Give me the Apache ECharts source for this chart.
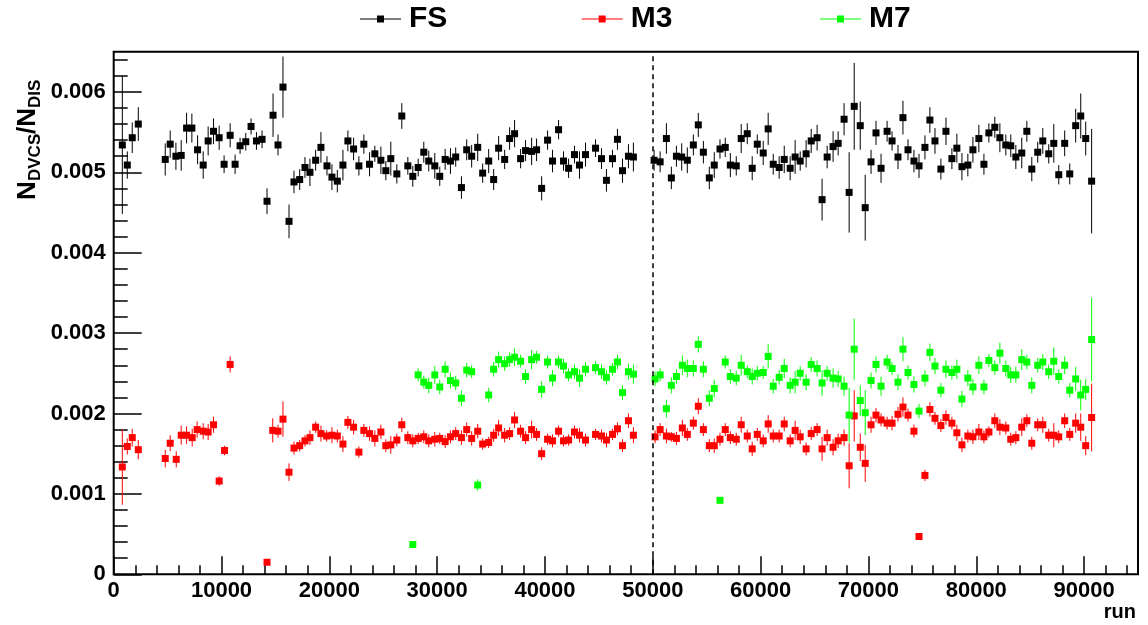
<!DOCTYPE html>
<html><head><meta charset="utf-8">
<script src="https://cdn.jsdelivr.net/npm/echarts@6/dist/echarts.min.js"></script>
<style>html,body{margin:0;padding:0;background:#fff}#c{width:1148px;height:625px}</style>
</head><body><div id="c"></div>
<script>
// [run, value, error]
const fsPoints = [
[800,5.34e-3,0.86e-3],[1260,5.09e-3,0.17e-3],[1720,5.43e-3,0.19e-3],[2280,5.60e-3,0.21e-3],
[4780,5.16e-3,0.20e-3],[5240,5.35e-3,0.17e-3],[5770,5.20e-3,0.17e-3],[6260,5.21e-3,0.19e-3],[6760,5.55e-3,0.19e-3],[7250,5.55e-3,0.18e-3],[7780,5.28e-3,0.18e-3],[8300,5.09e-3,0.17e-3],[8760,5.39e-3,0.18e-3],[9260,5.51e-3,0.16e-3],[9780,5.43e-3,0.15e-3],
[10240,5.10e-3,0.11e-3],[10800,5.46e-3,0.15e-3],[11260,5.10e-3,0.12e-3],[11720,5.33e-3,0.10e-3],[12250,5.38e-3,0.11e-3],[12740,5.57e-3,0.10e-3],[13240,5.39e-3,0.11e-3],[13760,5.41e-3,0.11e-3],[14220,4.64e-3,0.16e-3],[14780,5.71e-3,0.27e-3],[15240,5.34e-3,0.13e-3],[15700,6.06e-3,0.38e-3],[16260,4.39e-3,0.21e-3],[16720,4.88e-3,0.14e-3],[17250,4.91e-3,0.13e-3],[17740,5.06e-3,0.13e-3],[18200,5.00e-3,0.17e-3],[18730,5.15e-3,0.13e-3],[19220,5.31e-3,0.19e-3],[19780,5.08e-3,0.12e-3],
[20240,4.94e-3,0.16e-3],[20740,4.89e-3,0.14e-3],[21260,5.09e-3,0.19e-3],[21720,5.39e-3,0.13e-3],[22250,5.29e-3,0.14e-3],[22740,5.08e-3,0.12e-3],[23200,5.35e-3,0.12e-3],[23730,5.10e-3,0.15e-3],[24220,5.23e-3,0.10e-3],[24780,5.15e-3,0.17e-3],[25240,5.02e-3,0.12e-3],[25700,5.17e-3,0.21e-3],[26260,4.98e-3,0.12e-3],[26720,5.70e-3,0.16e-3],[27280,5.08e-3,0.11e-3],[27740,4.95e-3,0.13e-3],[28240,5.06e-3,0.11e-3],[28760,5.25e-3,0.13e-3],[29220,5.14e-3,0.13e-3],[29780,5.08e-3,0.16e-3],
[30240,4.95e-3,0.12e-3],[30740,5.16e-3,0.13e-3],[31230,5.14e-3,0.16e-3],[31720,5.19e-3,0.12e-3],[32250,4.81e-3,0.14e-3],[32740,5.28e-3,0.13e-3],[33200,5.20e-3,0.14e-3],[33760,5.31e-3,0.17e-3],[34220,4.99e-3,0.12e-3],[34780,5.14e-3,0.15e-3],[35240,4.91e-3,0.13e-3],[35700,5.30e-3,0.15e-3],[36260,5.16e-3,0.12e-3],[36720,5.42e-3,0.14e-3],[37180,5.48e-3,0.17e-3],[37740,5.17e-3,0.12e-3],[38200,5.27e-3,0.13e-3],[38760,5.26e-3,0.17e-3],[39220,5.28e-3,0.14e-3],[39690,4.80e-3,0.15e-3],
[40240,5.40e-3,0.12e-3],[40700,5.14e-3,0.14e-3],[41260,5.53e-3,0.12e-3],[41720,5.14e-3,0.12e-3],[42190,5.05e-3,0.12e-3],[42740,5.22e-3,0.11e-3],[43200,5.09e-3,0.17e-3],[43760,5.22e-3,0.15e-3],[44690,5.30e-3,0.11e-3],[45240,5.17e-3,0.13e-3],[45700,4.90e-3,0.14e-3],[46260,5.17e-3,0.11e-3],[46720,5.41e-3,0.13e-3],[47190,5.02e-3,0.15e-3],[47740,5.20e-3,0.15e-3],[48200,5.19e-3,0.18e-3],
[50120,5.15e-3,0.13e-3],[50680,5.13e-3,0.13e-3],[51260,5.42e-3,0.19e-3],[51720,4.93e-3,0.14e-3],[52190,5.20e-3,0.13e-3],[52680,5.19e-3,0.17e-3],[53200,5.15e-3,0.16e-3],[53760,5.34e-3,0.13e-3],[54220,5.59e-3,0.15e-3],[54690,5.25e-3,0.14e-3],[55240,4.93e-3,0.14e-3],[55700,5.09e-3,0.16e-3],[56230,5.29e-3,0.12e-3],[56720,5.31e-3,0.12e-3],[57190,5.09e-3,0.15e-3],[57740,5.08e-3,0.12e-3],[58200,5.42e-3,0.18e-3],[58760,5.48e-3,0.13e-3],[59220,5.05e-3,0.15e-3],[59690,5.35e-3,0.12e-3],
[60240,5.24e-3,0.15e-3],[60700,5.54e-3,0.20e-3],[61170,5.10e-3,0.13e-3],[61720,5.06e-3,0.14e-3],[62190,5.16e-3,0.17e-3],[62740,5.05e-3,0.15e-3],[63200,5.19e-3,0.21e-3],[63670,5.14e-3,0.12e-3],[64220,5.23e-3,0.17e-3],[64690,5.39e-3,0.15e-3],[65240,5.43e-3,0.16e-3],[65700,4.66e-3,0.26e-3],[66170,5.19e-3,0.14e-3],[66720,5.32e-3,0.19e-3],[67190,5.36e-3,0.15e-3],[67740,5.66e-3,0.20e-3],[68210,4.75e-3,0.50e-3],[68680,5.82e-3,0.54e-3],[69240,5.58e-3,0.30e-3],[69700,4.56e-3,0.41e-3],
[70240,5.13e-3,0.15e-3],[70700,5.49e-3,0.15e-3],[71170,5.05e-3,0.18e-3],[71730,5.51e-3,0.13e-3],[72190,5.39e-3,0.12e-3],[72740,5.19e-3,0.15e-3],[73200,5.68e-3,0.21e-3],[73670,5.28e-3,0.13e-3],[74220,5.14e-3,0.14e-3],[74690,5.08e-3,0.15e-3],[75240,5.31e-3,0.15e-3],[75700,5.65e-3,0.16e-3],[76170,5.39e-3,0.16e-3],[76720,5.04e-3,0.13e-3],[77190,5.51e-3,0.17e-3],[77740,5.17e-3,0.13e-3],[78200,5.30e-3,0.18e-3],[78670,5.07e-3,0.17e-3],[79220,5.09e-3,0.14e-3],[79690,5.28e-3,0.16e-3],
[80240,5.42e-3,0.17e-3],[80710,5.10e-3,0.13e-3],[81170,5.49e-3,0.12e-3],[81720,5.56e-3,0.13e-3],[82190,5.43e-3,0.18e-3],[82740,5.34e-3,0.13e-3],[83200,5.33e-3,0.14e-3],[83670,5.19e-3,0.15e-3],[84220,5.24e-3,0.19e-3],[84690,5.51e-3,0.13e-3],[85150,5.04e-3,0.15e-3],[85700,5.25e-3,0.13e-3],[86170,5.39e-3,0.16e-3],[86720,5.23e-3,0.12e-3],[87190,5.36e-3,0.24e-3],[87650,4.97e-3,0.12e-3],[88200,5.36e-3,0.16e-3],[88670,4.98e-3,0.13e-3],[89220,5.58e-3,0.21e-3],[89690,5.70e-3,0.28e-3],
[90150,5.42e-3,0.21e-3],[90700,4.89e-3,0.65e-3]
];
const m3Points = [
[800,1.335e-3,0.47e-3],[1260,1.59e-3,0.10e-3],[1720,1.70e-3,0.11e-3],[2280,1.55e-3,0.12e-3],
[4780,1.44e-3,0.11e-3],[5240,1.63e-3,0.10e-3],[5800,1.43e-3,0.10e-3],[6260,1.73e-3,0.12e-3],[6760,1.73e-3,0.11e-3],[7280,1.70e-3,0.11e-3],[7740,1.80e-3,0.10e-3],[8300,1.78e-3,0.10e-3],[8760,1.77e-3,0.10e-3],[9260,1.86e-3,0.10e-3],[9780,1.16e-3,0.06e-3],[10280,1.54e-3,0.06e-3],[10800,2.61e-3,0.10e-3],
[14220,0.15e-3,0.03e-3],[14750,1.79e-3,0.15e-3],[15240,1.78e-3,0.08e-3],[15700,1.93e-3,0.22e-3],[16260,1.27e-3,0.11e-3],[16720,1.57e-3,0.08e-3],[17250,1.60e-3,0.07e-3],[17740,1.66e-3,0.07e-3],[18200,1.70e-3,0.09e-3],[18730,1.83e-3,0.07e-3],[19220,1.75e-3,0.10e-3],[19750,1.72e-3,0.07e-3],
[20240,1.73e-3,0.10e-3],[20740,1.72e-3,0.08e-3],[21260,1.62e-3,0.10e-3],[21720,1.89e-3,0.08e-3],[22250,1.83e-3,0.09e-3],[22740,1.52e-3,0.07e-3],[23200,1.79e-3,0.08e-3],[23730,1.75e-3,0.09e-3],[24220,1.69e-3,0.10e-3],[24780,1.77e-3,0.09e-3],[25240,1.60e-3,0.08e-3],[25700,1.61e-3,0.11e-3],[26260,1.67e-3,0.08e-3],[26720,1.86e-3,0.09e-3],[27280,1.70e-3,0.08e-3],[27740,1.66e-3,0.08e-3],[28240,1.69e-3,0.07e-3],[28760,1.71e-3,0.08e-3],[29220,1.66e-3,0.08e-3],[29780,1.68e-3,0.09e-3],
[30240,1.69e-3,0.07e-3],[30740,1.65e-3,0.08e-3],[31230,1.71e-3,0.08e-3],[31720,1.75e-3,0.08e-3],[32250,1.70e-3,0.09e-3],[32740,1.80e-3,0.09e-3],[33200,1.69e-3,0.09e-3],[33760,1.78e-3,0.09e-3],[34220,1.62e-3,0.07e-3],[34780,1.64e-3,0.07e-3],[35240,1.73e-3,0.08e-3],[35700,1.82e-3,0.10e-3],[36260,1.73e-3,0.09e-3],[36720,1.75e-3,0.08e-3],[37180,1.92e-3,0.10e-3],[37740,1.78e-3,0.08e-3],[38200,1.70e-3,0.08e-3],[38760,1.80e-3,0.11e-3],[39220,1.74e-3,0.08e-3],[39690,1.50e-3,0.08e-3],
[40240,1.68e-3,0.07e-3],[40700,1.66e-3,0.08e-3],[41260,1.78e-3,0.07e-3],[41720,1.66e-3,0.07e-3],[42190,1.67e-3,0.07e-3],[42740,1.77e-3,0.08e-3],[43200,1.73e-3,0.09e-3],[43760,1.67e-3,0.08e-3],[44690,1.74e-3,0.07e-3],[45240,1.72e-3,0.08e-3],[45700,1.67e-3,0.09e-3],[46260,1.74e-3,0.07e-3],[46720,1.81e-3,0.08e-3],[47190,1.60e-3,0.08e-3],[47740,1.91e-3,0.09e-3],[48200,1.73e-3,0.10e-3],
[50210,1.71e-3,0.08e-3],[50680,1.80e-3,0.08e-3],[51260,1.72e-3,0.09e-3],[51720,1.71e-3,0.06e-3],[52190,1.69e-3,0.08e-3],[52740,1.82e-3,0.10e-3],[53200,1.74e-3,0.08e-3],[53760,1.88e-3,0.08e-3],[54220,2.09e-3,0.10e-3],[54690,1.80e-3,0.08e-3],[55240,1.60e-3,0.08e-3],[55700,1.60e-3,0.09e-3],[56230,1.68e-3,0.08e-3],[56720,1.80e-3,0.08e-3],[57190,1.70e-3,0.08e-3],[57740,1.68e-3,0.08e-3],[58200,1.86e-3,0.10e-3],[58760,1.72e-3,0.08e-3],[59220,1.56e-3,0.09e-3],[59690,1.74e-3,0.08e-3],
[60240,1.66e-3,0.08e-3],[60700,1.87e-3,0.11e-3],[61170,1.72e-3,0.08e-3],[61720,1.72e-3,0.08e-3],[62190,1.87e-3,0.09e-3],[62740,1.66e-3,0.08e-3],[63200,1.79e-3,0.12e-3],[63670,1.71e-3,0.09e-3],[64220,1.56e-3,0.08e-3],[64690,1.75e-3,0.08e-3],[65240,1.80e-3,0.08e-3],[65700,1.56e-3,0.15e-3],[66170,1.70e-3,0.10e-3],[66720,1.58e-3,0.10e-3],[67190,1.66e-3,0.09e-3],[67740,1.70e-3,0.10e-3],[68210,1.35e-3,0.28e-3],[68680,1.97e-3,0.32e-3],[69240,1.58e-3,0.17e-3],[69700,1.38e-3,0.23e-3],
[70240,1.86e-3,0.10e-3],[70700,1.98e-3,0.09e-3],[71170,1.92e-3,0.08e-3],[71730,1.88e-3,0.08e-3],[72190,1.88e-3,0.09e-3],[72740,1.99e-3,0.09e-3],[73200,2.08e-3,0.12e-3],[73670,1.98e-3,0.08e-3],[74220,1.78e-3,0.08e-3],[74690,0.47e-3,0.03e-3],[75240,1.23e-3,0.07e-3],[75700,2.05e-3,0.09e-3],[76170,1.94e-3,0.08e-3],[76720,1.85e-3,0.08e-3],[77190,1.95e-3,0.09e-3],[77740,1.88e-3,0.08e-3],[78200,1.76e-3,0.10e-3],[78670,1.61e-3,0.09e-3],[79220,1.72e-3,0.08e-3],[79690,1.71e-3,0.09e-3],
[80240,1.77e-3,0.10e-3],[80710,1.71e-3,0.08e-3],[81170,1.77e-3,0.07e-3],[81720,1.91e-3,0.09e-3],[82190,1.83e-3,0.10e-3],[82740,1.82e-3,0.08e-3],[83200,1.68e-3,0.08e-3],[83670,1.70e-3,0.08e-3],[84220,1.83e-3,0.11e-3],[84690,1.91e-3,0.08e-3],[85150,1.63e-3,0.08e-3],[85700,1.86e-3,0.08e-3],[86170,1.86e-3,0.10e-3],[86720,1.73e-3,0.08e-3],[87190,1.73e-3,0.15e-3],[87650,1.71e-3,0.08e-3],[88200,1.91e-3,0.09e-3],[88670,1.74e-3,0.08e-3],[89220,1.88e-3,0.12e-3],[89690,1.83e-3,0.17e-3],
[90150,1.60e-3,0.12e-3],[90700,1.95e-3,0.42e-3]
];
const m7Points = [
[27740,0.37e-3,0.03e-3],[28240,2.48e-3,0.08e-3],[28760,2.39e-3,0.08e-3],[29220,2.35e-3,0.10e-3],[29780,2.48e-3,0.11e-3],
[30240,2.33e-3,0.09e-3],[30740,2.55e-3,0.10e-3],[31230,2.41e-3,0.10e-3],[31720,2.38e-3,0.09e-3],[32250,2.19e-3,0.10e-3],[32740,2.54e-3,0.09e-3],[33200,2.52e-3,0.08e-3],[33760,1.11e-3,0.07e-3],[34780,2.23e-3,0.09e-3],[35240,2.55e-3,0.09e-3],[35700,2.67e-3,0.10e-3],[36260,2.62e-3,0.09e-3],[36720,2.67e-3,0.09e-3],[37180,2.70e-3,0.11e-3],[37740,2.65e-3,0.08e-3],[38200,2.46e-3,0.09e-3],[38760,2.67e-3,0.12e-3],[39220,2.70e-3,0.08e-3],[39690,2.30e-3,0.10e-3],
[40240,2.64e-3,0.08e-3],[40700,2.44e-3,0.10e-3],[41260,2.64e-3,0.08e-3],[41720,2.59e-3,0.09e-3],[42190,2.48e-3,0.08e-3],[42740,2.52e-3,0.09e-3],[43200,2.44e-3,0.11e-3],[43760,2.55e-3,0.09e-3],[44690,2.57e-3,0.08e-3],[45240,2.52e-3,0.09e-3],[45700,2.45e-3,0.09e-3],[46260,2.55e-3,0.08e-3],[46720,2.64e-3,0.09e-3],[47190,2.26e-3,0.09e-3],[47740,2.52e-3,0.10e-3],[48200,2.49e-3,0.12e-3],
[50210,2.43e-3,0.09e-3],[50680,2.48e-3,0.08e-3],[51260,2.06e-3,0.11e-3],[51720,2.35e-3,0.10e-3],[52190,2.46e-3,0.09e-3],[52740,2.60e-3,0.12e-3],[53200,2.56e-3,0.11e-3],[53760,2.56e-3,0.10e-3],[54220,2.86e-3,0.10e-3],[54690,2.55e-3,0.10e-3],[55240,2.19e-3,0.10e-3],[55700,2.31e-3,0.11e-3],[56230,0.92e-3,0.03e-3],[56720,2.64e-3,0.08e-3],[57190,2.46e-3,0.09e-3],[57740,2.44e-3,0.09e-3],[58200,2.60e-3,0.13e-3],[58760,2.52e-3,0.08e-3],[59220,2.46e-3,0.10e-3],[59690,2.50e-3,0.09e-3],
[60240,2.51e-3,0.08e-3],[60700,2.71e-3,0.15e-3],[61170,2.34e-3,0.09e-3],[61720,2.45e-3,0.09e-3],[62190,2.56e-3,0.12e-3],[62740,2.35e-3,0.10e-3],[63200,2.39e-3,0.14e-3],[63670,2.50e-3,0.09e-3],[64220,2.39e-3,0.10e-3],[64690,2.61e-3,0.09e-3],[65240,2.56e-3,0.10e-3],[65700,2.38e-3,0.16e-3],[66170,2.50e-3,0.09e-3],[66720,2.44e-3,0.12e-3],[67190,2.43e-3,0.10e-3],[67740,2.34e-3,0.12e-3],[68210,1.98e-3,0.34e-3],[68680,2.80e-3,0.38e-3],[69240,2.16e-3,0.19e-3],[69700,2.01e-3,0.28e-3],
[70240,2.41e-3,0.10e-3],[70700,2.61e-3,0.10e-3],[71170,2.34e-3,0.12e-3],[71730,2.64e-3,0.09e-3],[72190,2.56e-3,0.08e-3],[72740,2.39e-3,0.10e-3],[73200,2.80e-3,0.15e-3],[73670,2.51e-3,0.09e-3],[74220,2.36e-3,0.10e-3],[74690,2.03e-3,0.09e-3],[75240,2.44e-3,0.10e-3],[75700,2.76e-3,0.11e-3],[76170,2.59e-3,0.10e-3],[76720,2.29e-3,0.09e-3],[77190,2.55e-3,0.11e-3],[77740,2.51e-3,0.09e-3],[78200,2.55e-3,0.12e-3],[78670,2.18e-3,0.10e-3],[79220,2.44e-3,0.10e-3],[79690,2.33e-3,0.10e-3],
[80240,2.60e-3,0.11e-3],[80710,2.33e-3,0.09e-3],[81170,2.66e-3,0.08e-3],[81720,2.57e-3,0.09e-3],[82190,2.75e-3,0.13e-3],[82740,2.56e-3,0.10e-3],[83200,2.48e-3,0.10e-3],[83670,2.48e-3,0.10e-3],[84220,2.67e-3,0.13e-3],[84690,2.64e-3,0.09e-3],[85150,2.35e-3,0.10e-3],[85700,2.60e-3,0.09e-3],[86170,2.64e-3,0.10e-3],[86720,2.52e-3,0.09e-3],[87190,2.65e-3,0.17e-3],[87650,2.46e-3,0.09e-3],[88200,2.60e-3,0.11e-3],[88670,2.29e-3,0.09e-3],[89220,2.43e-3,0.15e-3],[89690,2.23e-3,0.19e-3],
[90150,2.30e-3,0.13e-3],[90700,2.92e-3,0.52e-3]
];
const seriesNames = ['FS', 'M3', 'M7'];
const seriesColors = ['#000000', '#ff0000', '#00ff00'];
const xTickValues = [0, 10000, 20000, 30000, 40000, 50000, 60000, 70000, 80000, 90000];
const xTickLabels = ['0', '10000', '20000', '30000', '40000', '50000', '60000', '70000', '80000', '90000'];
const yTickValues = [0, 0.001, 0.002, 0.003, 0.004, 0.005, 0.006];
const yTickLabels = ['0', '0.001', '0.002', '0.003', '0.004', '0.005', '0.006'];
const xRange = [0, 95000];
const yRange = [0, 0.0065];
const dividerRun = 50000;
const xAxisTitle = 'run';

const xMinor = [];
for (let k = 1; k * 2000 <= xRange[1]; k++) if (k % 5 !== 0) xMinor.push(k * 2000);
const yMinor = [];
for (let k = 1; k * 0.0002 <= yRange[1] + 1e-9; k++) if (k % 5 !== 0) yMinor.push(+(k * 0.0002).toFixed(4));

const FONT = 'Liberation Sans, Arial, Helvetica, sans-serif';
const chart = echarts.init(document.getElementById('c'), null, {renderer: 'canvas'});

function errRenderer(color) {
  return function (params, api) {
    const x = api.value(0), y = api.value(1), e = api.value(2);
    const p1 = api.coord([x, y - e]), p2 = api.coord([x, y + e]);
    return {type: 'line', shape: {x1: p1[0], y1: p1[1], x2: p2[0], y2: p2[1]},
      style: {stroke: color, lineWidth: 1}};
  };
}

const pointSets = [fsPoints, m3Points, m7Points];
const series = [];
pointSets.forEach((pts, i) => {
  series.push({type: 'custom', name: seriesNames[i] + '_err', data: pts, renderItem: errRenderer(seriesColors[i]),
    encode: {x: 0, y: 1}, silent: true, z: 2});
});
pointSets.forEach((pts, i) => {
  const s = {type: 'scatter', name: seriesNames[i], data: pts, symbol: 'rect', symbolSize: 7,
    encode: {x: 0, y: 1}, itemStyle: {color: seriesColors[i], opacity: 1}, silent: true, z: 3};
  if (i === 0) {
    s.markLine = {silent: true, symbol: ['none', 'none'], label: {show: false},
      lineStyle: {color: '#000', type: [5, 4], width: 1.5}, animation: false,
      data: [{xAxis: dividerRun}]};
  }
  series.push(s);
});

const legendIcon = 'path://M0,3H17V0H24V3H41V4H24V7H17V4H0Z';
const legendLefts = [360, 581.7, 820];
const legends = seriesNames.map((n, i) => ({
  data: [n], left: legendLefts[i], top: 4, padding: 0, itemWidth: 41, itemHeight: 7, icon: legendIcon,
  selectedMode: false,
  textStyle: {fontFamily: FONT, fontWeight: 'bold', fontSize: 30, color: '#000', padding: [0, 0, 0, 3], lineHeight: 30}
}));

const labelStyle = {fontFamily: FONT, fontWeight: 'bold', fontSize: 22, color: '#000'};

chart.setOption({
  animation: false,
  backgroundColor: '#fff',
  grid: {left: 113.7, right: 10, top: 51.7, bottom: 50.7, show: true, borderColor: '#000', borderWidth: 2, backgroundColor: 'transparent'},
  legend: legends,
  xAxis: [
    {type: 'value', min: xRange[0], max: xRange[1], position: 'bottom',
      axisLine: {show: false}, splitLine: {show: false},
      axisTick: {show: true, inside: true, length: 18, customValues: xTickValues, lineStyle: {color: '#000', width: 1.5}},
      axisLabel: {show: true, customValues: xTickValues, margin: 6, ...labelStyle,
        formatter: v => xTickLabels[xTickValues.indexOf(v)] ?? ''}},
    {type: 'value', min: xRange[0], max: xRange[1], position: 'bottom', offset: 0,
      axisLine: {show: false}, splitLine: {show: false}, axisLabel: {show: false},
      axisTick: {show: true, inside: true, length: 9, customValues: xMinor, lineStyle: {color: '#000', width: 1.5}}}
  ],
  yAxis: [
    {type: 'value', min: yRange[0], max: yRange[1], position: 'left',
      axisLine: {show: false}, splitLine: {show: false},
      axisTick: {show: true, inside: true, length: 28, customValues: yTickValues, lineStyle: {color: '#000', width: 1.5}},
      axisLabel: {show: true, customValues: yTickValues, margin: 8, ...labelStyle,
        formatter: v => { const i = yTickValues.findIndex(t => Math.abs(t - v) < 1e-9); return i >= 0 ? yTickLabels[i] : ''; }}},
    {type: 'value', min: yRange[0], max: yRange[1], position: 'left', offset: 0,
      axisLine: {show: false}, splitLine: {show: false}, axisLabel: {show: false},
      axisTick: {show: true, inside: true, length: 14, customValues: yMinor, lineStyle: {color: '#000', width: 1.5}}}
  ],
  graphic: [
    {type: 'text', right: 12, top: 602, style: {text: xAxisTitle, font: 'bold 20px ' + FONT, fill: '#000'}},
    {type: 'group', x: 28, y: 200, rotation: Math.PI / 2, children: [
      {type: 'text', x: 0, y: 0, style: {text: 'N', font: 'bold 26px ' + FONT, fill: '#000', textVerticalAlign: 'middle'}},
      {type: 'text', x: 19, y: 7, style: {text: 'DVCS', font: 'bold 17px ' + FONT, fill: '#000', textVerticalAlign: 'middle'}},
      {type: 'text', x: 66, y: 0, style: {text: '/N', font: 'bold 26px ' + FONT, fill: '#000', textVerticalAlign: 'middle'}},
      {type: 'text', x: 92, y: 7, style: {text: 'DIS', font: 'bold 17px ' + FONT, fill: '#000', textVerticalAlign: 'middle'}}
    ]}
  ],
  series: series
});
</script>
</body></html>
